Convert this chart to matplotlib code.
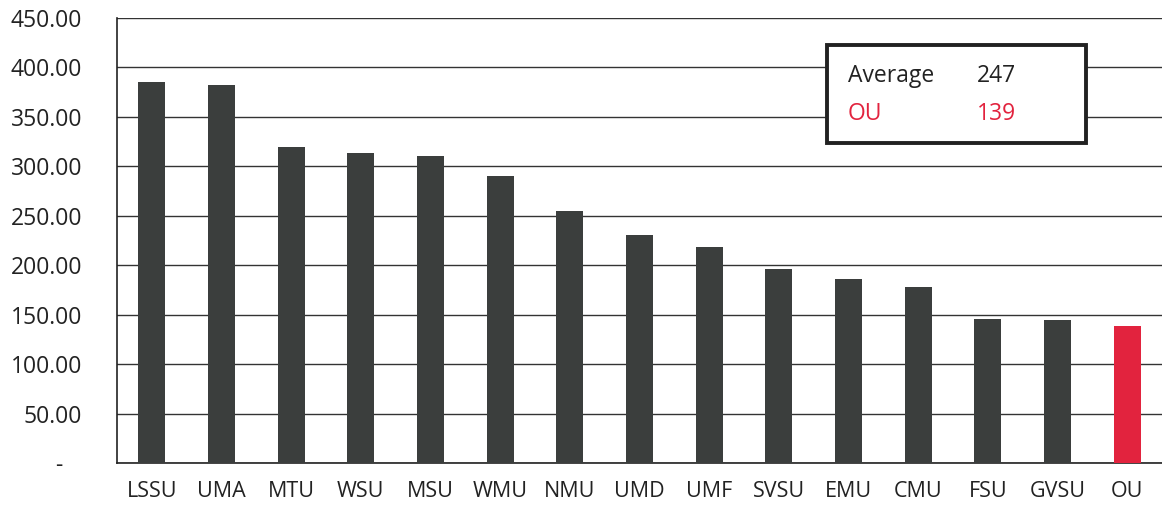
import matplotlib
matplotlib.use('Agg')
import matplotlib.pyplot as plt
import matplotlib.transforms as mtransforms
from matplotlib.patches import Rectangle

# data
schools = ['LSSU', 'UMA', 'MTU', 'WSU', 'MSU', 'WMU', 'NMU', 'UMD', 'UMF',
           'SVSU', 'EMU', 'CMU', 'FSU', 'GVSU', 'OU']
values = [385.5, 382.5, 319.5, 313, 310, 290, 255, 230.5, 218,
          196, 186, 178, 146, 145, 139]
yticks = [0, 50, 100, 150, 200, 250, 300, 350, 400, 450]
average = 247
ou_value = 139

dark = '#3b3e3d'
red = '#e2233e'

plt.rcParams['font.family'] = ['Open Sans', 'DejaVu Sans']

fig = plt.figure(figsize=(11.62, 5.12), dpi=100)
ax = fig.add_axes([0.1007, 0.0957, 0.8993, 0.8693])

colors = [red if s == 'OU' else dark for s in schools]
ax.bar(range(len(schools)), values, width=0.39, color=colors, zorder=3)

ax.set_xlim(-0.5, len(schools) - 0.5)
ax.set_ylim(0, 450)
ax.set_yticks(yticks)
ax.set_yticklabels(['-' if v == 0 else '{:.2f}'.format(v) for v in yticks], fontsize=16.5, color='#222222')
ax.set_xticks(range(len(schools)))
ax.set_xticklabels(schools, fontsize=15.5, color='#222222')
ax.tick_params(axis='both', length=0)
ax.tick_params(axis='x', pad=13)
ax.tick_params(axis='y', pad=25)

# accounting style dash for zero sits further left
zero_lbl = ax.get_yticklabels()[0]
zero_lbl.set_transform(zero_lbl.get_transform() +
                       mtransforms.ScaledTranslation(-0.2, 0, fig.dpi_scale_trans))

ax.grid(axis='y', color='#333333', linewidth=1.0, zorder=0)
for side in ['top', 'right']:
    ax.spines[side].set_visible(False)
ax.spines['left'].set_color('#222222')
ax.spines['bottom'].set_color('#222222')
ax.spines['left'].set_linewidth(1.2)
ax.spines['bottom'].set_linewidth(1.2)

# summary box
box = Rectangle((827 / 1162, 1 - 143 / 512), (1086 - 827) / 1162, (143 - 45) / 512,
                transform=fig.transFigure, facecolor='white', edgecolor='#222222',
                linewidth=2.8, zorder=5)
fig.patches.append(box)
kw = dict(fontsize=16.5, va='center', zorder=6)
fig.text(848 / 1162, 1 - 76 / 512, 'Average', color='#222222', **kw)
fig.text(977 / 1162, 1 - 76 / 512, str(average), color='#222222', **kw)
fig.text(848 / 1162, 1 - 114 / 512, 'OU', color=red, **kw)
fig.text(977 / 1162, 1 - 114 / 512, str(ou_value), color=red, **kw)

fig.savefig('out.png', dpi=100, facecolor='white')
